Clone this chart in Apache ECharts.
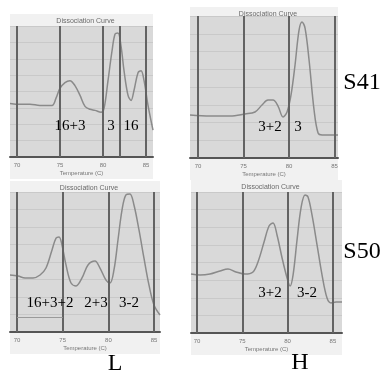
<!DOCTYPE html>
<html><head><meta charset="utf-8">
<script src="https://cdn.jsdelivr.net/npm/echarts@6/dist/echarts.min.js"></script>
<style>html,body{margin:0;padding:0;background:#fff}#c{width:383px;height:377px}</style>
</head><body><div id="c"></div>
<script>
// ---- data (temperature in °C, derivative in arbitrary units 0-100) ----
const tempTicks = [70, 75, 80, 85];
const tlMarker = [82.0];
const tlCurve = [[69.19,40.9],[70.35,40.2],[71.51,40.2],[72.67,39.4],[74.07,39.4],[74.53,44.7],[74.99,52.3],[75.58,56.8],[76.16,58.3],[76.74,54.5],[77.33,47.0],[77.91,38.6],[78.49,36.4],[79.07,35.6],[79.77,34.1],[80.12,37.1],[80.58,58.3],[81.05,81.1],[81.40,93.9],[81.74,94.7],[82.09,84.8],[82.44,65.9],[82.91,47.0],[83.26,43.2],[83.60,50.8],[84.07,64.4],[84.42,65.9],[84.77,58.3],[85.23,39.4],[85.81,20.5]];
const trCurve = [[69.12,30.3],[71.32,29.6],[73.52,29.6],[75.16,31.0],[76.26,32.4],[77.03,37.3],[77.69,40.8],[78.24,40.8],[78.79,36.6],[79.34,28.9],[79.78,32.4],[80.22,44.4],[80.66,65.5],[81.10,90.1],[81.43,95.8],[81.76,91.5],[82.20,69.0],[82.75,33.8],[83.19,17.6],[83.63,16.2],[85.38,16.2]];
const blCurve = [[69.23,40.7],[70.11,40.0],[70.88,38.6],[71.75,38.6],[72.52,40.7],[73.17,45.7],[73.83,58.6],[74.27,67.1],[74.60,67.9],[74.92,62.1],[75.36,47.9],[75.91,35.0],[76.46,32.9],[77.11,38.6],[77.77,47.9],[78.53,50.7],[79.08,45.7],[79.74,37.1],[80.18,35.0],[80.61,44.3],[81.05,65.7],[81.49,87.1],[81.92,97.9],[82.36,98.6],[82.80,90.7],[83.35,72.9],[83.89,52.9],[84.44,33.6],[84.99,19.3],[85.65,12.1]];
const blBaseline = [70, 75, 10.7];
const brCurve = [[69.34,41.8],[70.33,41.1],[71.43,41.8],[72.54,44.0],[73.42,45.4],[74.30,43.3],[75.30,41.8],[76.18,43.3],[76.73,50.4],[77.40,64.5],[77.95,75.9],[78.39,78.0],[78.83,69.5],[79.39,53.2],[79.94,39.0],[80.27,33.3],[80.60,41.1],[81.04,66.0],[81.48,88.7],[81.92,97.9],[82.25,96.5],[82.69,83.7],[83.25,62.4],[83.80,41.1],[84.35,24.8],[84.79,21.3],[85.34,22.0],[86.00,22.0]];
const xRanges = [[69.19,85.81],[69.12,85.38],[69.23,85.65],[69.34,86.0]];
const curves = [tlCurve, trCurve, blCurve, brCurve];
const peakLabels = [
  [['16+3',70,126],['3',111,126],['16',131,126]],
  [['3+2',270,127],['3',298,127]],
  [['16+3+2',50,303],['2+3',96,303],['3-2',129,303]],
  [['3+2',270,293],['3-2',307,293]]
];
const sideLabels = [['S41',362,83],['S50',362,252],['L',115,364],['H',300,363]];
const chartTitle = 'Dissociation Curve';
const axisTitle = 'Temperature (C)';

// ---- layout ----
const grids = [
  {left:10, top:26, width:143, height:131},
  {left:190, top:16, width:148, height:142},
  {left:10, top:192, width:150, height:140},
  {left:191, top:192, width:151, height:141}
];
const titleY = [13, 6, 180, 179];

const serif = '"Liberation Serif","Times New Roman",serif';
const sans = '"Liberation Sans",Arial,sans-serif';

const option = {
  animation:false,
  backgroundColor:'#fff',
  grid: grids.map(g => Object.assign({show:true, backgroundColor:'#d9d9d9', borderWidth:0}, g)),
  title: grids.map((g,i) => ({
    text: chartTitle, left: g.left + g.width/2 - 1, top: titleY[i], textAlign:'center',
    textStyle:{fontSize:7, fontWeight:'normal', color:'#6a6a6a', fontFamily:sans}
  })),
  xAxis: grids.map((g,i) => ({
    type:'value', gridIndex:i, min:xRanges[i][0], max:xRanges[i][1],
    splitNumber:3, minInterval:5, maxInterval:5,
    name: axisTitle, nameLocation:'middle', nameGap:13,
    nameTextStyle:{fontSize:6, color:'#777', fontFamily:sans},
    axisLine:{show:true, lineStyle:{color:'#555', width:2}},
    axisTick:{show:false},
    splitLine:{show:false},
    axisLabel:{fontSize:6, color:'#777', margin:5, fontFamily:sans,
      formatter: v => (Math.abs(v/5 - Math.round(v/5)) < 1e-6 ? String(Math.round(v)) : '')}
  })),
  yAxis: grids.map((g,i) => ({
    type:'value', gridIndex:i, min:0, max:100, interval:12.5,
    axisLine:{show:false}, axisTick:{show:false}, axisLabel:{show:false},
    splitLine:{show:true, lineStyle:{color:'#c9c9c9', width:1}}
  })),
  series: curves.map((c,i) => {
    const ml = tempTicks.map(t => ({xAxis:t}));
    if (i === 0) tlMarker.forEach(t => ml.push({xAxis:t}));
    const s = {
      type:'line', xAxisIndex:i, yAxisIndex:i, data:c, smooth:0.35, showSymbol:false,
      lineStyle:{color:'#8a8a8a', width:1.5}, clip:true, z:3,
      markLine:{silent:true, symbol:['none','none'], label:{show:false},
        lineStyle:{color:'#636363', width:2, type:'solid'}, data:ml}
    };
    if (i === 2) {
      s.markLine.data.push([{coord:[blBaseline[0], blBaseline[2]], lineStyle:{color:'#9a9a9a', width:1}},
                            {coord:[blBaseline[1], blBaseline[2]]}]);
    }
    return s;
  }),
  graphic: [].concat(
    grids.map((g,i) => ({type:'rect', z:-10, silent:true,
      shape:{x:g.left, y:titleY[i]+1, width:g.width, height:(g.top+g.height+22)-(titleY[i]+1)},
      style:{fill:'#f1f1f1'}})),
    peakLabels.flat().map(l => ({type:'text', z:10, x:l[1], y:l[2],
      style:{text:l[0], font:'15px ' + serif, fill:'#000', textAlign:'center', textVerticalAlign:'middle'}})),
    sideLabels.map(l => ({type:'text', z:10, x:l[1], y:l[2],
      style:{text:l[0], font:'24px ' + serif, fill:'#000', textAlign:'center', textVerticalAlign:'middle'}}))
  )
};
echarts.init(document.getElementById('c')).setOption(option);
</script></body></html>
